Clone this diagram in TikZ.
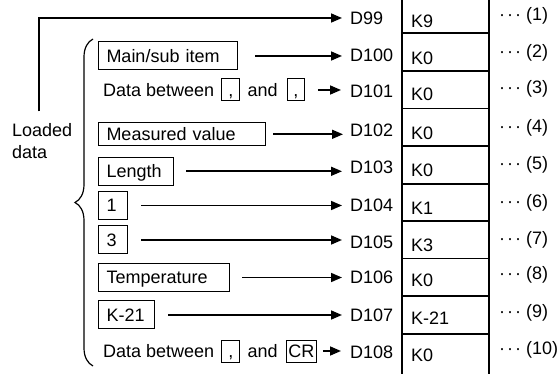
\documentclass[tikz,border=0pt]{standalone}
\usepackage{fontspec}
\setmainfont{Liberation Sans}
\usetikzlibrary{positioning,arrows.meta,decorations.pathreplacing}

\begin{document}
\begin{tikzpicture}[
        x=1pt, y=-1pt,
        font=\fontsize{18}{21.7}\selectfont,
        lbl/.style={inner sep=0pt, text height=13pt, text depth=0pt},
        srcbox/.style={draw, line width=1pt, inner xsep=8pt, inner ysep=7.5pt, text height=13pt, text depth=0pt, anchor=west, align=left},
        smallbox/.style={draw, line width=1pt, inner sep=0pt, minimum height=22pt, text height=13pt, text depth=0pt},
        arr/.style={-{Triangle[length=11pt,width=9pt]}, line width=1.6pt},
        tbl/.style={line width=1.6pt},
        bracel/.style={line width=1.2pt, decorate, decoration={brace, amplitude=18pt}}
    ]
        \useasboundingbox (0,0) rectangle (560,374);

        % Register column
        \draw[tbl] (401.7,0) -- (401.7,374);
        \draw[tbl] (489,0) -- (489,374);
        \foreach \y in {33,71,108.5,146,184,221,258.5,296,334}
            \draw[tbl] (401.7,\y) -- (489,\y);

        % Device names, stored values, item numbers
        \foreach \d/\k/\y [count=\i] in {99/K9/18, 100/K0/54.7, 101/K0/90.7, 102/K0/130, 103/K0/167,
                104/K1/205, 105/K3/241.7, 106/K0/277, 107/K-21/315, 108/K0/352} {
            \node[lbl, anchor=west] (d\d) at (350,\y) {D\d};
            \node[lbl, anchor=west] (k\d) at (411,\y+3) {\k};
            \node[lbl, anchor=west] (n\i) at (499,\y-4) {·\kern2pt·\kern2pt·\ (\i)};
        }

        % Loaded items
        \node[srcbox, text width=123pt] (main) at (98,56) {Main/sub item};
        \node[srcbox, text width=151pt, inner ysep=5pt] (meas) at (98,134.3) {Measured value};
        \node[srcbox, text width=59pt] (len) at (98,171.3) {Length};
        \node[srcbox, text width=13pt] (one) at (98,205.5) {1};
        \node[srcbox, text width=13pt] (three) at (98,240) {3};
        \node[srcbox, text width=115pt] (temp) at (98,277.5) {Temperature};
        \node[srcbox, text width=40pt] (kneg) at (98,315) {K-21};

        % Delimited rows
        \node[lbl, anchor=west] (betweenA) at (103,90) {Data between};
        \node[smallbox, minimum width=18pt, right=7pt of betweenA] (commaA) {,};
        \node[lbl, right=7pt of commaA] (andA) {and};
        \node[smallbox, minimum width=17pt, right=9pt of andA] (commaB) {,};

        \node[lbl, anchor=west] (betweenB) at (103,351) {Data between};
        \node[smallbox, minimum width=18pt, right=7pt of betweenB] (commaC) {,};
        \node[lbl, right=7pt of commaC] (andB) {and};
        \node[smallbox, minimum width=30pt, right=8pt of andB] (cr) {CR};

        % Loaded data label and brace
        \node[align=left, inner sep=0pt, anchor=west] (loaded) at (12,141) {Loaded\\data};
        \draw[bracel] (93,366) -- (93,39);

        % Arrows
        \draw[arr, shorten <=12pt, shorten >=8pt] ([xshift=-3.3pt]loaded.north) |- (d99.west);
        \draw[arr, shorten <=17pt, shorten >=8pt] (main) -- (main -| d100.west);
        \draw[arr, shorten <=13pt, shorten >=9pt] (commaB) -- (commaB -| d101.west);
        \draw[arr, shorten <=7pt, shorten >=7pt] (meas) -- (meas -| d102.west);
        \draw[arr, shorten <=12pt, shorten >=8pt] (len) -- (len -| d103.west);
        \draw[arr, shorten <=13pt, shorten >=8pt] (one) -- (one -| d104.west);
        \draw[arr, shorten <=13pt, shorten >=8pt] (three) -- (three -| d105.west);
        \draw[arr, shorten <=12pt, shorten >=8pt] (temp) -- (temp -| d106.west);
        \draw[arr, shorten <=13pt, shorten >=8pt] (kneg) -- (kneg -| d107.west);
        \draw[arr, shorten <=6pt, shorten >=9pt] (cr) -- (cr -| d108.west);
    \end{tikzpicture}
\end{document}
